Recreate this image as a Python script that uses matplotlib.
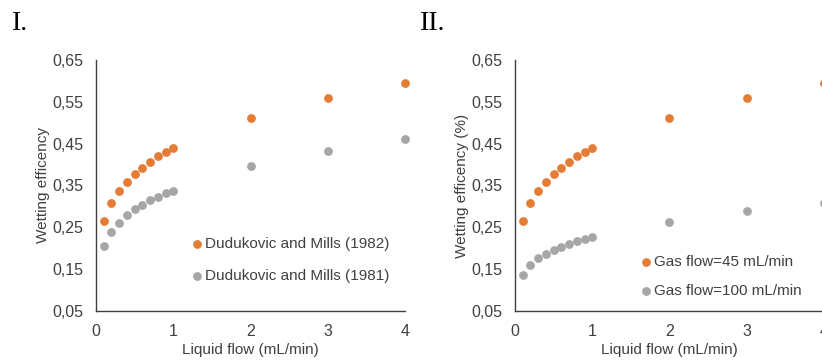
import matplotlib.pyplot as plt

plt.rcParams['font.family'] = ['Liberation Sans', 'DejaVu Sans']

# liquid flow (mL/min)
flow = [0.1, 0.2, 0.3, 0.4, 0.5, 0.6, 0.7, 0.8, 0.9, 1.0, 2, 3, 4]

# panel I: correlations
dm_1982 = [0.264, 0.309, 0.338, 0.359, 0.377, 0.393, 0.406, 0.420, 0.429, 0.439, 0.512, 0.558, 0.596]
dm_1981 = [0.205, 0.240, 0.261, 0.279, 0.293, 0.303, 0.315, 0.323, 0.332, 0.338, 0.397, 0.432, 0.462]

# panel II: gas flow
gas_45 = [0.264, 0.309, 0.338, 0.359, 0.377, 0.393, 0.406, 0.420, 0.429, 0.439, 0.512, 0.558, 0.596]
gas_100 = [0.136, 0.160, 0.176, 0.186, 0.196, 0.204, 0.211, 0.217, 0.221, 0.227, 0.263, 0.289, 0.307]

yticks = [0.05, 0.15, 0.25, 0.35, 0.45, 0.55, 0.65]
ytick_labels = ['0,05', '0,15', '0,25', '0,35', '0,45', '0,55', '0,65']

orange = '#E47C36'
grey = '#A6A6A6'
txt = '#404040'

fig = plt.figure(figsize=(8.22, 3.64), dpi=100)
ax1 = fig.add_axes([0.1168, 0.1456, 0.3759, 0.6896])
ax2 = fig.add_axes([0.6265, 0.1456, 0.3759, 0.6896])


def style(ax, ylabel):
    ax.set_xlim(0, 4)
    ax.set_ylim(0.05, 0.65)
    ax.set_yticks(yticks)
    ax.set_yticklabels(ytick_labels)
    ax.set_xticks([0, 1, 2, 3, 4])
    ax.tick_params(length=0, labelsize=11.5, colors=txt)
    ax.tick_params(axis='x', pad=9)
    ax.tick_params(axis='y', pad=9)
    for s in ['top', 'right']:
        ax.spines[s].set_visible(False)
    for s in ['left', 'bottom']:
        ax.spines[s].set_color(txt)
        ax.spines[s].set_linewidth(1.0)
    ax.set_xlabel('Liquid flow (mL/min)', fontsize=11, color=txt, labelpad=3)
    ax.set_ylabel(ylabel, fontsize=11, color=txt, labelpad=2)


ax1.scatter(flow, dm_1982, s=28, color=orange, label='Dudukovic and Mills (1982)', clip_on=False, zorder=3)
ax1.scatter(flow, dm_1981, s=28, color=grey, label='Dudukovic and Mills (1981)', clip_on=False, zorder=3)
style(ax1, 'Wetting efficency')
ax1.legend(loc='upper left', bbox_to_anchor=(0.282, 0.321), frameon=False, fontsize=11,
           handlelength=1.0, handletextpad=0.05, labelspacing=1.18, borderaxespad=0,
           labelcolor=txt)

ax2.scatter(flow, gas_45, s=28, color=orange, label='Gas flow=45 mL/min', clip_on=False, zorder=3)
ax2.scatter(flow, gas_100, s=28, color=grey, label='Gas flow=100 mL/min', clip_on=False, zorder=3)
style(ax2, 'Wetting efficency (%)')
ax2.legend(loc='upper left', bbox_to_anchor=(0.379, 0.247), frameon=False, fontsize=11,
           handlelength=1.0, handletextpad=0.05, labelspacing=0.98, borderaxespad=0,
           labelcolor=txt)

fig.text(0.014, 0.935, 'I.', fontsize=20, family='Liberation Serif', va='center', ha='left')
fig.text(0.511, 0.935, 'II.', fontsize=20, family='Liberation Serif', va='center', ha='left')

fig.savefig('out.png', dpi=100)
